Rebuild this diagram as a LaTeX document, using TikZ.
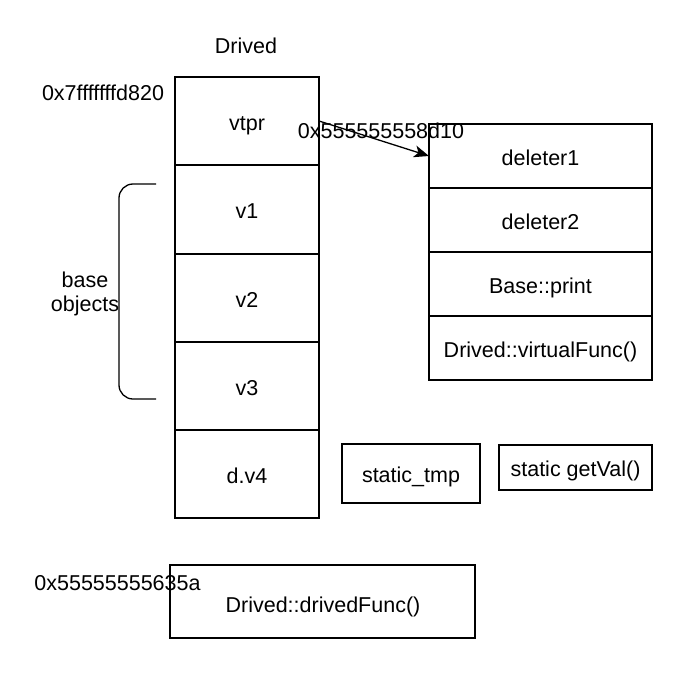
\documentclass[tikz,border=0pt]{standalone}
\usepackage{fontspec}
\setmainfont{Liberation Sans}
\usetikzlibrary{arrows.meta}
\begin{document}
\begin{tikzpicture}[x=1bp,y=-1bp,
  every node/.style={font=\fontsize{21.5bp}{24bp}\selectfont, text=black, text height=18bp, text depth=3.1bp},
  box/.style={draw=black, line width=1.3bp, inner sep=0pt, outer sep=0pt, align=center, text height=21.5bp},
  cell/.style={box, minimum width=144bp, minimum height=88bp},
  vcell/.style={box, minimum width=223bp, minimum height=64bp},
  lbl/.style={inner sep=0pt, align=center},
  ptr/.style={line width=1.3bp, -{Stealth[length=15bp,width=12bp,inset=4bp]}}]
\useasboundingbox (0,0) rectangle (673,679);
% Drived object
\node[lbl] (title) at (246,46.5) {Drived};
\node[lbl] (addr1) at (103,93.5) {0x7fffffffd820};
\node[cell] (vtpr) at (247,121) {vtpr};
\node[cell] (v1) at (247,209.5) {v1};
\node[cell] (v2) at (247,298) {v2};
\node[cell] (v3) at (247,386) {v3};
\node[cell] (dv4) at (247,474) {d.v4};
% vtable
\node[vcell] (d1) at (540.5,156) {deleter1};
\node[vcell] (d2) at (540.5,220) {deleter2};
\node[vcell] (bp) at (540.5,284) {Base::print};
\node[vcell] (vf) at (540.5,348) {Drived::virtualFunc()};
% arrow
\draw[ptr] (vtpr.east) -- (d1.west);
\node[lbl] (addr2) at (381,131.5) {0x555555558d10};
% statics
\node[box, minimum width=138bp, minimum height=59bp] (stmp) at (411,473.5) {static\_tmp};
\node[box, minimum width=153bp, minimum height=45bp] (gval) at (575.5,467.5) {static getVal()};
% brace
\draw[line width=1.3bp, rounded corners=14bp] (156,184) -- (119,184) -- (119,399) -- (156,399);
\node[lbl] (base1) at (85,280.5) {base};
\node[lbl] (base2) at (85,304.5) {objects};
% drivedFunc
\node[box, minimum width=305bp, minimum height=73bp] (df) at (322.5,601.5) {};
\node[lbl] (dft) at (323,605) {Drived::drivedFunc()};
\node[lbl] (addr3) at (117.5,583.5) {0x55555555635a};
\end{tikzpicture}
\end{document}
